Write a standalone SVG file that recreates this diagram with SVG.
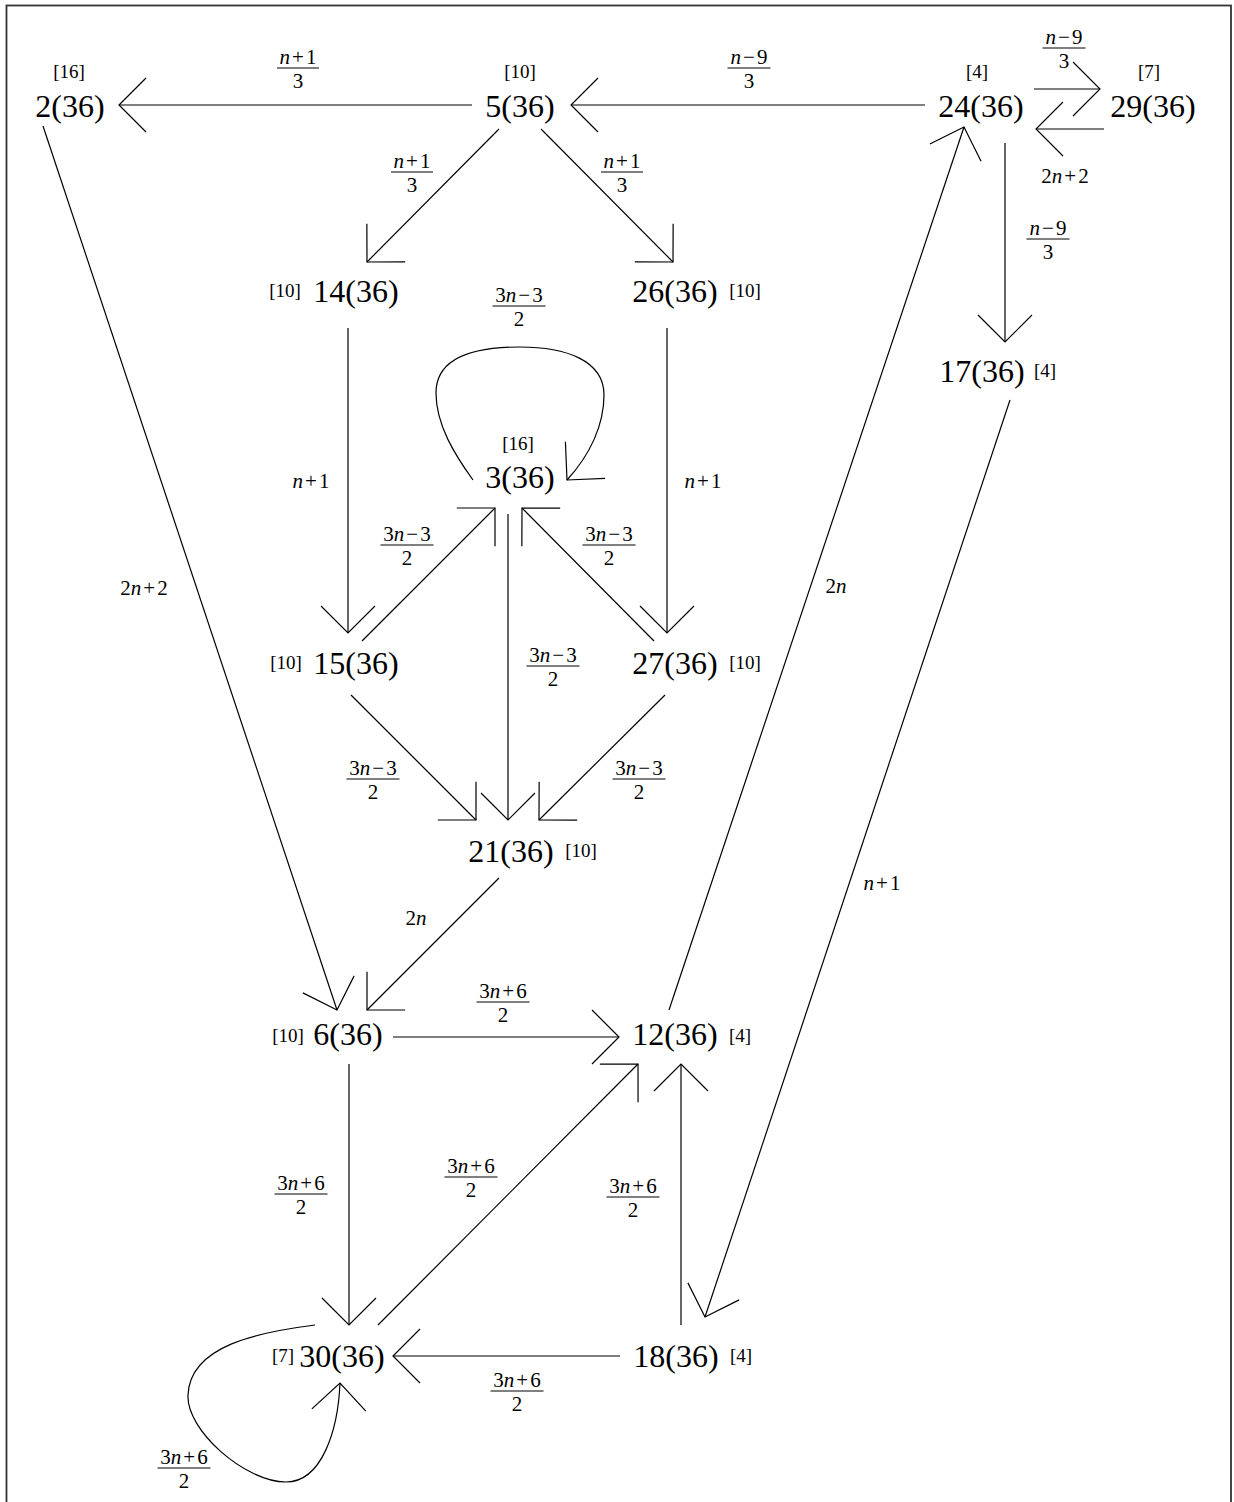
<svg xmlns="http://www.w3.org/2000/svg" width="1234" height="1502" viewBox="0 0 1234 1502">
<style>
text{font-family:"Liberation Serif","DejaVu Serif",serif;fill:#000;text-anchor:middle}
.n{font-size:32px}
.t{font-size:19px}
.lbl text{font-size:21px}
.i{font-style:italic}
.e{stroke:#000;stroke-width:1.2;fill:none;marker-end:url(#ah)}
.fr line{stroke:#000;stroke-width:1}
</style>
<defs>
<marker id="ah" markerUnits="userSpaceOnUse" markerWidth="80" markerHeight="80" refX="0" refY="0" orient="auto" overflow="visible">
<path d="M-27,-27 L0,0 L-27,27" fill="none" stroke="#000" stroke-width="1.2"/>
</marker>
</defs>
<rect x="6.5" y="5.5" width="1224.5" height="1520" fill="#fff" stroke="#333" stroke-width="1.8"/>

<g id="n2"><text class="n" x="70" y="117">2(36)</text><text class="t" x="69" y="78">[16]</text></g>
<g id="n5"><text class="n" x="520" y="117">5(36)</text><text class="t" x="520" y="78">[10]</text></g>
<g id="n24"><text class="n" x="981" y="117">24(36)</text><text class="t" x="977" y="78">[4]</text></g>
<g id="n29"><text class="n" x="1153" y="117">29(36)</text><text class="t" x="1149" y="78">[7]</text></g>
<g id="n14"><text class="n" x="356" y="302">14(36)</text><text class="t" x="285" y="297">[10]</text></g>
<g id="n26"><text class="n" x="675" y="302">26(36)</text><text class="t" x="745" y="297">[10]</text></g>
<g id="n17"><text class="n" x="982" y="382">17(36)</text><text class="t" x="1045" y="377">[4]</text></g>
<g id="n3"><text class="n" x="520" y="488">3(36)</text><text class="t" x="518" y="450">[16]</text></g>
<g id="n15"><text class="n" x="356" y="674">15(36)</text><text class="t" x="286" y="669">[10]</text></g>
<g id="n27"><text class="n" x="675" y="674">27(36)</text><text class="t" x="745" y="669">[10]</text></g>
<g id="n21"><text class="n" x="511" y="862">21(36)</text><text class="t" x="581" y="857">[10]</text></g>
<g id="n6"><text class="n" x="348" y="1045">6(36)</text><text class="t" x="288" y="1042">[10]</text></g>
<g id="n12"><text class="n" x="675" y="1045">12(36)</text><text class="t" x="740" y="1042">[4]</text></g>
<g id="n30"><text class="n" x="342" y="1367">30(36)</text><text class="t" x="283" y="1362">[7]</text></g>
<g id="n18"><text class="n" x="676" y="1367">18(36)</text><text class="t" x="741" y="1362">[4]</text></g>

<g id="connectors">
<path class="e" d="M472,105 L119,105"/>
<path class="e" d="M925,105 L571,105"/>
<path class="e" d="M499,129 L367,262"/>
<path class="e" d="M541,129 L673,262"/>
<path class="e" d="M1034,89 L1100,89"/>
<path class="e" d="M1104,129 L1036,129"/>
<path class="e" d="M1005,143 L1005,342"/>
<path class="e" d="M669,1010 L964,127"/>
<path class="e" d="M1010,400 L705,1317"/>
<path class="e" d="M43,126 L337,1010"/>
<path class="e" d="M348,328 L348,633"/>
<path class="e" d="M667,328 L667,633"/>
<path class="e" d="M362,641 L495,508"/>
<path class="e" d="M654,641 L522,508"/>
<path class="e" d="M508,514 L508,820"/>
<path class="e" d="M351,695 L476,820"/>
<path class="e" d="M665,695 L539,820"/>
<path class="e" d="M473,480 C455,455 436,425 436,393 C436,355 480,347 520,347 C565,347 604,360 604,395 C604,425 590,455 567,480"/>
<path class="e" d="M499,878 L367,1010"/>
<path class="e" d="M393,1037 L619,1037"/>
<path class="e" d="M349,1064 L349,1325"/>
<path class="e" d="M378,1325 L638,1064"/>
<path class="e" d="M681,1325 L681,1064"/>
<path class="e" d="M620,1356 L393,1356"/>
<path class="e" d="M315,1325 C260,1332 190,1345 188,1395 C186,1430 245,1482 286,1482 C322,1482 338,1430 340,1383"/>

<g class="lbl">
<g class="fr" transform="translate(298,68)"><text y="-4"><tspan class="i">n</tspan><tspan dx="2">+</tspan><tspan dx="2">1</tspan></text><line x1="-21" x2="21"/><text y="20">3</text></g>
<g class="fr" transform="translate(749,68)"><text y="-4"><tspan class="i">n</tspan><tspan dx="2">−</tspan><tspan dx="2">9</tspan></text><line x1="-21.5" x2="21.5"/><text y="20">3</text></g>
<g class="fr" transform="translate(412,172)"><text y="-4"><tspan class="i">n</tspan><tspan dx="2">+</tspan><tspan dx="2">1</tspan></text><line x1="-21" x2="21"/><text y="20">3</text></g>
<g class="fr" transform="translate(622,172)"><text y="-4"><tspan class="i">n</tspan><tspan dx="2">+</tspan><tspan dx="2">1</tspan></text><line x1="-21" x2="21"/><text y="20">3</text></g>
<g class="fr" transform="translate(1064,48)"><text y="-4"><tspan class="i">n</tspan><tspan dx="2">−</tspan><tspan dx="2">9</tspan></text><line x1="-21.5" x2="21.5"/><text y="20">3</text></g>
<text x="1065" y="183">2<tspan class="i">n</tspan><tspan dx="2">+</tspan><tspan dx="2">2</tspan></text>
<g class="fr" transform="translate(1048,239)"><text y="-4"><tspan class="i">n</tspan><tspan dx="2">−</tspan><tspan dx="2">9</tspan></text><line x1="-21.5" x2="21.5"/><text y="20">3</text></g>
<text x="836" y="593">2<tspan class="i">n</tspan></text>
<text x="882" y="890"><tspan class="i">n</tspan><tspan dx="2">+</tspan><tspan dx="2">1</tspan></text>
<text x="144" y="595">2<tspan class="i">n</tspan><tspan dx="2">+</tspan><tspan dx="2">2</tspan></text>
<text x="311" y="488"><tspan class="i">n</tspan><tspan dx="2">+</tspan><tspan dx="2">1</tspan></text>
<text x="703" y="488"><tspan class="i">n</tspan><tspan dx="2">+</tspan><tspan dx="2">1</tspan></text>
<g class="fr" transform="translate(407,545)"><text y="-4">3<tspan class="i">n</tspan><tspan dx="2">−</tspan><tspan dx="2">3</tspan></text><line x1="-26.5" x2="26.5"/><text y="20">2</text></g>
<g class="fr" transform="translate(609,545)"><text y="-4">3<tspan class="i">n</tspan><tspan dx="2">−</tspan><tspan dx="2">3</tspan></text><line x1="-26.5" x2="26.5"/><text y="20">2</text></g>
<g class="fr" transform="translate(553,666)"><text y="-4">3<tspan class="i">n</tspan><tspan dx="2">−</tspan><tspan dx="2">3</tspan></text><line x1="-26.5" x2="26.5"/><text y="20">2</text></g>
<g class="fr" transform="translate(373,779)"><text y="-4">3<tspan class="i">n</tspan><tspan dx="2">−</tspan><tspan dx="2">3</tspan></text><line x1="-26.5" x2="26.5"/><text y="20">2</text></g>
<g class="fr" transform="translate(639,779)"><text y="-4">3<tspan class="i">n</tspan><tspan dx="2">−</tspan><tspan dx="2">3</tspan></text><line x1="-26.5" x2="26.5"/><text y="20">2</text></g>
<g class="fr" transform="translate(519,306)"><text y="-4">3<tspan class="i">n</tspan><tspan dx="2">−</tspan><tspan dx="2">3</tspan></text><line x1="-26.5" x2="26.5"/><text y="20">2</text></g>
<text x="416" y="925">2<tspan class="i">n</tspan></text>
<g class="fr" transform="translate(503,1002)"><text y="-4">3<tspan class="i">n</tspan><tspan dx="2">+</tspan><tspan dx="2">6</tspan></text><line x1="-26.5" x2="26.5"/><text y="20">2</text></g>
<g class="fr" transform="translate(301,1194)"><text y="-4">3<tspan class="i">n</tspan><tspan dx="2">+</tspan><tspan dx="2">6</tspan></text><line x1="-26.5" x2="26.5"/><text y="20">2</text></g>
<g class="fr" transform="translate(471,1177)"><text y="-4">3<tspan class="i">n</tspan><tspan dx="2">+</tspan><tspan dx="2">6</tspan></text><line x1="-26.5" x2="26.5"/><text y="20">2</text></g>
<g class="fr" transform="translate(633,1197)"><text y="-4">3<tspan class="i">n</tspan><tspan dx="2">+</tspan><tspan dx="2">6</tspan></text><line x1="-26.5" x2="26.5"/><text y="20">2</text></g>
<g class="fr" transform="translate(517,1391)"><text y="-4">3<tspan class="i">n</tspan><tspan dx="2">+</tspan><tspan dx="2">6</tspan></text><line x1="-26.5" x2="26.5"/><text y="20">2</text></g>
<g class="fr" transform="translate(184,1468)"><text y="-4">3<tspan class="i">n</tspan><tspan dx="2">+</tspan><tspan dx="2">6</tspan></text><line x1="-26.5" x2="26.5"/><text y="20">2</text></g>
</g>
</g>
</svg>
